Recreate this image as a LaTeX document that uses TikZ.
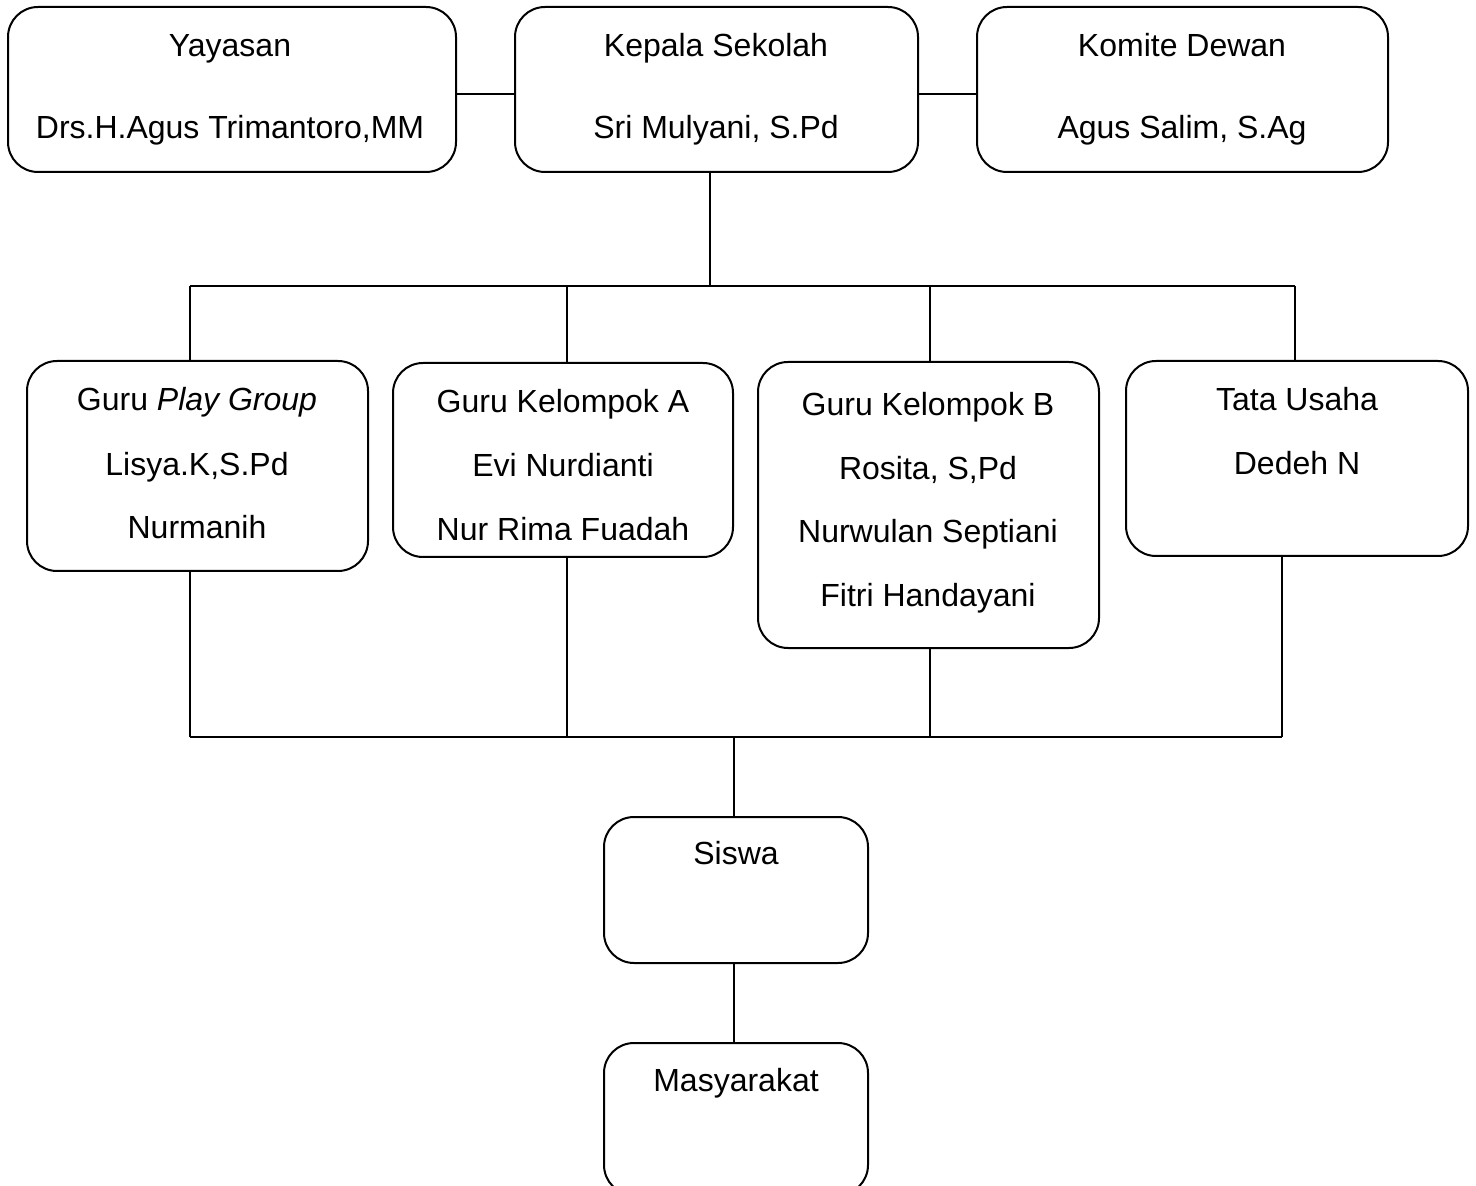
\documentclass[tikz,border=0pt]{standalone}
\usepackage{fontspec}
\setmainfont{Liberation Sans}
\usetikzlibrary{positioning}

\tikzset{
  box/.style={draw, line width=1pt, rounded corners=15pt, inner sep=0pt},
  txt/.style={align=center, anchor=base, inner sep=0pt, font=\fontsize{16}{#1}\selectfont},
  link/.style={line width=1pt},
}

\begin{document}
\begin{tikzpicture}[x=0.5pt, y=-0.5pt]
    \useasboundingbox (0,0) rectangle (1476,1186);

    % top row
    \node[box, minimum width=224pt, minimum height=82.5pt] (yayasan) at (232,89.5) {};
    \node[box, minimum width=201.5pt, minimum height=82.5pt] (kepala) at (716.5,89.5) {};
    \node[box, minimum width=205.5pt, minimum height=82.5pt] (komite) at (1182.5,89.5) {};

    % (base anchor = last line)
    \node[txt=41pt] (yayasan-t) at (230,139) {Yayasan\\Drs.H.Agus Trimantoro,MM};
    \node[txt=41pt] (kepala-t) at (716,139) {Kepala Sekolah\\Sri Mulyani, S.Pd};
    \node[txt=41pt] (komite-t) at (1182,139) {Komite Dewan\\Agus Salim, S.Ag};

    % teachers and staff
    \node[box, minimum width=170.5pt, minimum height=105pt] (playgroup) at (197.5,466) {};
    \node[box, minimum width=170pt, minimum height=97pt] (kelA) at (563,460) {};
    \node[box, minimum width=170.5pt, minimum height=143pt] (kelB) at (928.5,505) {};
    \node[box, minimum width=171pt, minimum height=97.5pt] (tata) at (1297,458.5) {};

    \node[txt=32pt] (playgroup-t) at (197,539) {Guru \textit{Play Group}\\Lisya.K,S.Pd\\Nurmanih};
    \begin{scope}
        \clip (393,363) rectangle (733,540);
        \node[txt=32pt] (kelA-t) at (563,541) {Guru Kelompok A\\Evi Nurdianti\\Nur Rima Fuadah};
    \end{scope}
    \node[txt=31.7pt] (kelB-t) at (928,606) {Guru Kelompok B\\Rosita, S,Pd\\Nurwulan Septiani\\Fitri Handayani};
    \node[txt=32pt] (tata-t) at (1297,475) {Tata Usaha\\Dedeh N};

    % bottom
    \node[box, minimum width=132pt, minimum height=73pt] (siswa) at (736,890) {};
    \node[box, minimum width=132pt, minimum height=76pt] (masyarakat) at (736,1119) {};

    \node[txt=20pt] (siswa-t) at (736,864) {Siswa};
    \node[txt=20pt] (masyarakat-t) at (736,1091) {Masyarakat};

    % lines
    \draw[link] ([yshift=-2.5pt]yayasan.east) -- ([yshift=-2.5pt]kepala.west);
    \draw[link] ([yshift=-2.5pt]kepala.east) -- ([yshift=-2.5pt]komite.west);

    \coordinate (hub) at (710,286);
    \coordinate (pgTop) at (190,286);
    \coordinate (kaTop) at (567,286);
    \coordinate (kbTop) at (930,286);
    \coordinate (tuTop) at (1295,286);
    \draw[link] (kepala.south -| hub) -- (hub);
    \draw[link] (pgTop) -- (tuTop);
    \draw[link] (pgTop) -- (pgTop |- playgroup.north);
    \draw[link] (kaTop) -- (kaTop |- kelA.north);
    \draw[link] (kbTop) -- (kbTop |- kelB.north);
    \draw[link] (tuTop) -- (tuTop |- tata.north);

    \coordinate (sink) at (734,737);
    \coordinate (pgBot) at (190,737);
    \coordinate (kaBot) at (567,737);
    \coordinate (kbBot) at (930,737);
    \coordinate (tuBot) at (1282,737);
    \draw[link] (pgBot) -- (tuBot);
    \draw[link] (pgBot |- playgroup.south) -- (pgBot);
    \draw[link] (kaBot |- kelA.south) -- (kaBot);
    \draw[link] (kbBot |- kelB.south) -- (kbBot);
    \draw[link] (tuBot |- tata.south) -- (tuBot);
    \draw[link] (sink) -- (sink |- siswa.north);
    \draw[link] (siswa.south -| sink) -- (masyarakat.north -| sink);
\end{tikzpicture}
\end{document}
